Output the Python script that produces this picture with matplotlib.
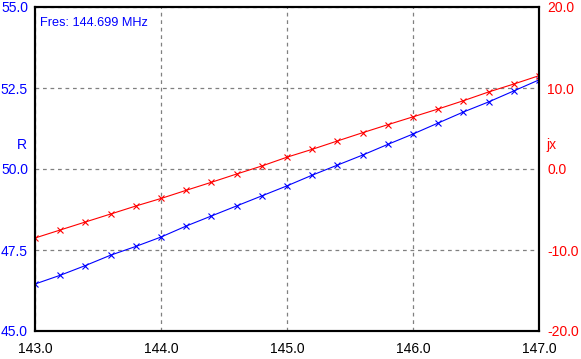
import matplotlib
matplotlib.use("Agg")
import matplotlib.pyplot as plt

plt.rcParams['font.family'] = ['Liberation Sans', 'DejaVu Sans']

freq = [143.0, 143.2, 143.4, 143.6, 143.8, 144.0, 144.2, 144.4, 144.6, 144.8,
        145.0, 145.2, 145.4, 145.6, 145.8, 146.0, 146.2, 146.4, 146.6, 146.8, 147.0]
r_vals = [46.45, 46.72, 47.02, 47.34, 47.61, 47.90, 48.24, 48.55, 48.86, 49.17,
          49.48, 49.81, 50.12, 50.43, 50.76, 51.08, 51.42, 51.76, 52.07, 52.41, 52.75]
jx_vals = [-8.52, -7.53, -6.54, -5.56, -4.57, -3.64, -2.63, -1.64, -0.62, 0.37,
           1.46, 2.43, 3.46, 4.48, 5.47, 6.44, 7.41, 8.43, 9.51, 10.49, 11.52]

x_ticks = [143.0, 144.0, 145.0, 146.0, 147.0]
r_ticks = [45.0, 47.5, 50.0, 52.5, 55.0]
jx_ticks = [-20.0, -10.0, 0.0, 10.0, 20.0]
fres_text = "Fres: 144.699 MHz"

fig = plt.figure(figsize=(5.81, 3.59), dpi=100)
ax = fig.add_axes([35 / 581, 28 / 359, 504 / 581, 324 / 359])
ax2 = ax.twinx()

ax.plot(freq, r_vals, color='#0000FF', lw=0.8, marker='x', ms=5, mew=0.8)
ax2.plot(freq, jx_vals, color='#FF0000', lw=0.8, marker='x', ms=5, mew=0.8)

ax.set_xlim(143, 147)
ax.set_ylim(45, 55)
ax2.set_ylim(-20, 20)

ax.set_xticks(x_ticks)
ax.set_xticklabels([f"{t:.1f}" for t in x_ticks])
ax.set_yticks(r_ticks)
ax.set_yticklabels([f"{t:.1f}" for t in r_ticks])
ax2.set_yticks(jx_ticks)
ax2.set_yticklabels([f"{t:.1f}" for t in jx_ticks])

ax.tick_params(axis='x', length=0, pad=8, labelsize=10, labelcolor='black')
ax.tick_params(axis='y', length=0, pad=5, labelsize=10, labelcolor='#0000FF')
ax2.tick_params(axis='y', length=0, pad=6, labelsize=10, labelcolor='#FF0000')

ax.grid(True, color='#808080', linestyle=(0, (3, 3)), linewidth=0.9)
for a in (ax, ax2):
    for s in a.spines.values():
        s.set_linewidth(1.5)
        s.set_color('black')

ax.text(-0.026, 0.574, "R", transform=ax.transAxes, color='#0000FF',
        fontsize=10, ha='center', va='center')
ax2.text(1.014, 0.574, "jx", transform=ax2.transAxes, color='#FF0000',
         fontsize=10, ha='left', va='center')
ax.text(0.01, 0.951, fres_text, transform=ax.transAxes, color='#0000FF',
        fontsize=9.2, ha='left', va='center')

fig.savefig("out.png", dpi=100)
